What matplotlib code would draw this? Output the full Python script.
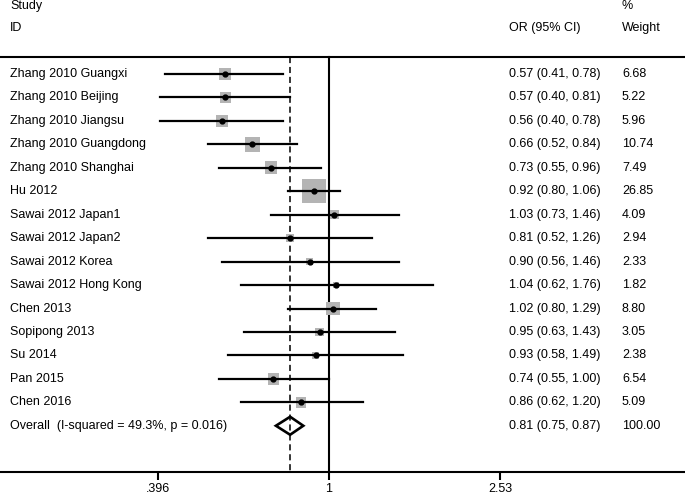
import numpy as np
import matplotlib
matplotlib.use('Agg')
import matplotlib.pyplot as plt
import matplotlib.transforms as mtransforms
from matplotlib.patches import Polygon

plt.rcParams['font.family'] = ['Liberation Sans', 'DejaVu Sans']

studies = ['Zhang 2010 Guangxi', 'Zhang 2010 Beijing', 'Zhang 2010 Jiangsu',
           'Zhang 2010 Guangdong', 'Zhang 2010 Shanghai', 'Hu 2012',
           'Sawai 2012 Japan1', 'Sawai 2012 Japan2', 'Sawai 2012 Korea',
           'Sawai 2012 Hong Kong', 'Chen 2013', 'Sopipong 2013', 'Su 2014',
           'Pan 2015', 'Chen 2016']
odds = [0.57, 0.57, 0.56, 0.66, 0.73, 0.92, 1.03, 0.81, 0.90, 1.04, 1.02, 0.95, 0.93, 0.74, 0.86]
lower = [0.41, 0.40, 0.40, 0.52, 0.55, 0.80, 0.73, 0.52, 0.56, 0.62, 0.80, 0.63, 0.58, 0.55, 0.62]
upper = [0.78, 0.81, 0.78, 0.84, 0.96, 1.06, 1.46, 1.26, 1.46, 1.76, 1.29, 1.43, 1.49, 1.00, 1.20]
weights = [6.68, 5.22, 5.96, 10.74, 7.49, 26.85, 4.09, 2.94, 2.33, 1.82, 8.80, 3.05, 2.38, 6.54, 5.09]
overall = 0.81
overall_lo = 0.75
overall_hi = 0.87
overall_label = 'Overall  (I-squared = 49.3%, p = 0.016)'
xticks = [0.396, 1, 2.53]
xticklabels = ['.396', '1', '2.53']

W, H = 685, 494
fig = plt.figure(figsize=(W / 100, H / 100), dpi=100)
ax = fig.add_axes([0, 22 / H, 1, 472 / H])
ax.set_xscale('log')
x0 = np.exp(-329 / 184.5)
x1 = np.exp((W - 329) / 184.5)
ax.set_xlim(x0, x1)
ax.set_ylim(472, 0)

row0 = 74
step = 23.45
rows = row0 + step * np.arange(len(studies))
row_overall = row0 + step * len(studies)
top = 57

trans = mtransforms.blended_transform_factory(ax.transAxes, ax.transData)
fs = 9

# header
ax.text(10 / W, 6, 'Study', transform=trans, fontsize=fs, va='center')
ax.text(10 / W, 28, 'ID', transform=trans, fontsize=fs, va='center')
ax.text(509 / W, 28, 'OR (95% CI)', transform=trans, fontsize=fs, va='center')
ax.text(622 / W, 6, '%', transform=trans, fontsize=fs, va='center')
ax.text(622 / W, 28, 'Weight', transform=trans, fontsize=fs, va='center')
ax.axhline(top, color='black', lw=1.5)

# reference lines
ax.plot([1, 1], [top, 472], color='black', lw=1.5, zorder=2)
ax.plot([overall, overall], [top, 472], color='black', lw=1.1, ls=(0, (4, 2.5)), zorder=2)

# studies
max_side = 24.0
for i, name in enumerate(studies):
    y = rows[i]
    side = max_side * np.sqrt(weights[i] / max(weights))
    lx = np.log(odds[i])
    xa = np.exp(lx - side / 2 / 184.5)
    xb = np.exp(lx + side / 2 / 184.5)
    ax.fill([xa, xb, xb, xa], [y - side / 2, y - side / 2, y + side / 2, y + side / 2],
            color='#b4b4b4', lw=0, zorder=3)
    ax.plot([lower[i], upper[i]], [y, y], color='black', lw=1.6, zorder=4)
    ax.plot(odds[i], y, 'o', color='black', ms=3.5, zorder=5)
    ax.text(10 / W, y, name, transform=trans, fontsize=fs, va='center')
    ax.text(509 / W, y, '%.2f (%.2f, %.2f)' % (odds[i], lower[i], upper[i]),
            transform=trans, fontsize=fs, va='center')
    ax.text(622 / W, y, '%.2f' % weights[i], transform=trans, fontsize=fs, va='center')

# overall diamond
y = row_overall
dia = Polygon([[overall_lo, y], [overall, y - 9], [overall_hi, y], [overall, y + 9]],
              closed=True, facecolor='none', edgecolor='black', lw=1.9, zorder=6)
ax.add_patch(dia)
ax.text(10 / W, y, overall_label, transform=trans, fontsize=fs, va='center')
ax.text(509 / W, y, '%.2f (%.2f, %.2f)' % (overall, overall_lo, overall_hi),
        transform=trans, fontsize=fs, va='center')
ax.text(622 / W, y, '100.00', transform=trans, fontsize=fs, va='center')

# axis
for s in ['top', 'left', 'right']:
    ax.spines[s].set_visible(False)
ax.spines['bottom'].set_linewidth(1.5)
ax.set_yticks([])
ax.set_xticks(xticks)
ax.set_xticklabels(xticklabels, fontsize=fs)
ax.xaxis.set_minor_locator(matplotlib.ticker.NullLocator())
ax.tick_params(axis='x', direction='out', length=6, width=1.5, pad=2)

fig.savefig('out.png', dpi=100)
